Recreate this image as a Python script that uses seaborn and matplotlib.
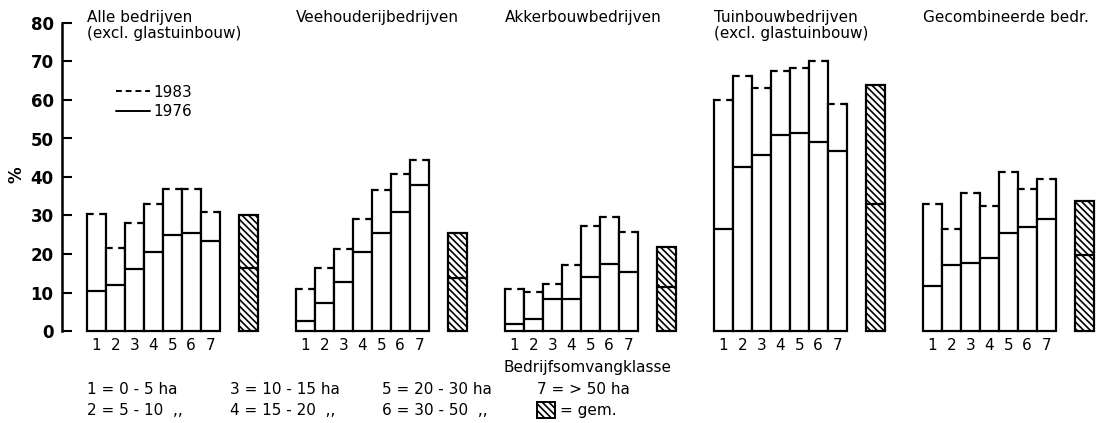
import numpy as np
import pandas as pd
import matplotlib
matplotlib.use("Agg")
import matplotlib.pyplot as plt
from matplotlib.lines import Line2D
from matplotlib.patches import Rectangle
import seaborn as sns

# ── data ──────────────────────────────────────────────────────────────────
groups = ["Alle bedrijven\n(excl. glastuinbouw)", "Veehouderijbedrijven",
          "Akkerbouwbedrijven", "Tuinbouwbedrijven\n(excl. glastuinbouw)",
          "Gecombineerde bedr."]
classes = ["1", "2", "3", "4", "5", "6", "7"]

y1983 = {
    "Alle":     [30.5, 21.5, 28.0, 33.0, 37.0, 37.0, 31.0],
    "Vee":      [10.8, 16.3, 21.2, 29.2, 36.7, 40.7, 44.5],
    "Akker":    [10.9, 10.2, 12.2, 17.1, 27.2, 29.5, 25.6],
    "Tuin":     [60.0, 66.3, 63.2, 67.6, 68.4, 70.0, 59.0],
    "Gecomb":   [32.9, 26.4, 35.8, 32.4, 41.2, 36.8, 39.4],
}
y1976 = {
    "Alle":     [10.3, 12.0, 16.0, 20.5, 25.0, 25.5, 23.5],
    "Vee":      [2.5, 7.2, 12.8, 20.5, 25.4, 30.8, 38.0],
    "Akker":    [1.8, 3.0, 8.3, 8.3, 14.0, 17.3, 15.3],
    "Tuin":     [26.4, 42.7, 45.6, 50.8, 51.5, 49.0, 46.7],
    "Gecomb":   [11.7, 17.1, 17.6, 18.9, 25.4, 26.9, 29.0],
}
avg1983 = [30.0, 25.5, 21.8, 64.0, 33.7]
avg1976 = [16.3, 13.7, 11.5, 32.9, 19.7]

footnotes = [["1 = 0 - 5 ha", "2 = 5 - 10  ,,"],
             ["3 = 10 - 15 ha", "4 = 15 - 20  ,,"],
             ["5 = 20 - 30 ha", "6 = 30 - 50  ,,"],
             ["7 = > 50 ha", "= gem."]]

# ── table: one row per bar, slot position on a numeric axis ─────────────
STRIDE = 11
rows = []
for g, key in enumerate(y1983):
    for i in range(7):
        rows.append(dict(pos=g * STRIDE + i, v83=y1983[key][i],
                         v76=y1976[key][i], avg=False))
    rows.append(dict(pos=g * STRIDE + 8, v83=avg1983[g], v76=avg1976[g], avg=True))
df = pd.DataFrame(rows)

sns.set_theme(style="white")
plt.rcParams["font.family"] = ["DejaVu Sans"]
plt.rcParams["hatch.linewidth"] = 1.2
for k in ["text.color", "axes.labelcolor", "xtick.color", "ytick.color"]:
    plt.rcParams[k] = "black"

W, H = 1106, 423
fig = plt.figure(figsize=(W / 100, H / 100), dpi=100)
ax = fig.add_axes([62 / W, (H - 331) / H, 1 - 62 / W, 308 / H])

LW = 1.6
sns.barplot(data=df, x="pos", y="v83", native_scale=True, width=1,
            color="white", saturation=1, edgecolor="black", linewidth=LW,
            errorbar=None, ax=ax)

avg_pos = set(df.loc[df["avg"], "pos"])
for p in ax.patches:
    p.set_clip_on(False)
    c = p.get_x() + p.get_width() / 2
    if round(c) in avg_pos:
        p.set_hatch("\\\\\\\\\\")

# dashed tops for 1983, solid line for 1976
cls = df[~df["avg"]]
ax.hlines(cls["v83"], cls["pos"] - 0.42, cls["pos"] + 0.42,
          color="white", lw=LW + 1.2, zorder=3)
ax.hlines(cls["v83"], cls["pos"] - 0.5, cls["pos"] + 0.5,
          color="black", lw=LW, linestyles=(0, (3, 2.5)), zorder=4)
ax.hlines(df["v76"], df["pos"] - 0.5, df["pos"] + 0.5,
          color="black", lw=LW, zorder=4)

ax.set_xlim(-1.8, -1.8 + (W - 62) / 19)
ax.set_ylim(0, 80)
ax.set_yticks(range(0, 81, 10))
ax.tick_params(axis="y", left=True, direction="in", length=7, width=1.5,
               labelsize=12, pad=6)
for t in ax.get_yticklabels():
    t.set_fontweight("bold")
ax.set_xticks(cls["pos"])
ax.set_xticklabels(classes * len(groups), fontsize=11)
ax.tick_params(axis="x", length=0, pad=5)
ax.set_xlabel("")
ax.set_ylabel("")
fig.text(16 / W, 1 - 175 / H, "%", rotation=90, ha="center", va="center",
         fontsize=12, fontweight="bold")
for s in ["top", "right", "bottom"]:
    ax.spines[s].set_visible(False)
ax.spines["left"].set_color("black")
ax.spines["left"].set_linewidth(1.8)

for g, title in enumerate(groups):
    ax.text(g * STRIDE - 0.5, 83.3, title, va="top", ha="left",
            fontsize=11, linespacing=1.05)

ax.legend(handles=[Line2D([], [], color="black", lw=1.4, ls=(0, (3, 2))),
                   Line2D([], [], color="black", lw=1.4)],
          labels=["1983", "1976"], loc="upper left",
          bbox_to_anchor=(0.052, 0.80), frameon=False, fontsize=11,
          handlelength=2.2, handletextpad=0.2, labelspacing=0.3,
          borderpad=0, borderaxespad=0)

fig.text(588 / W, 1 - 367 / H, "Bedrijfsomvangklasse", ha="center",
         va="center", fontsize=11)
cols_x = [87, 230, 382, 537]
for cx, pair in zip(cols_x, footnotes):
    fig.text(cx / W, 1 - 389 / H, pair[0], va="center", fontsize=11)
    if pair[1] == "= gem.":
        fig.patches.append(Rectangle((cx / W, 1 - 418 / H), 18 / W, 16 / H,
                                     transform=fig.transFigure, facecolor="white",
                                     edgecolor="black", lw=1.4,
                                     hatch="\\\\\\\\\\"))
        fig.text((cx + 23) / W, 1 - 410 / H, pair[1], va="center", fontsize=11)
    else:
        fig.text(cx / W, 1 - 410 / H, pair[1], va="center", fontsize=11)

fig.savefig("out.png", dpi=100)
